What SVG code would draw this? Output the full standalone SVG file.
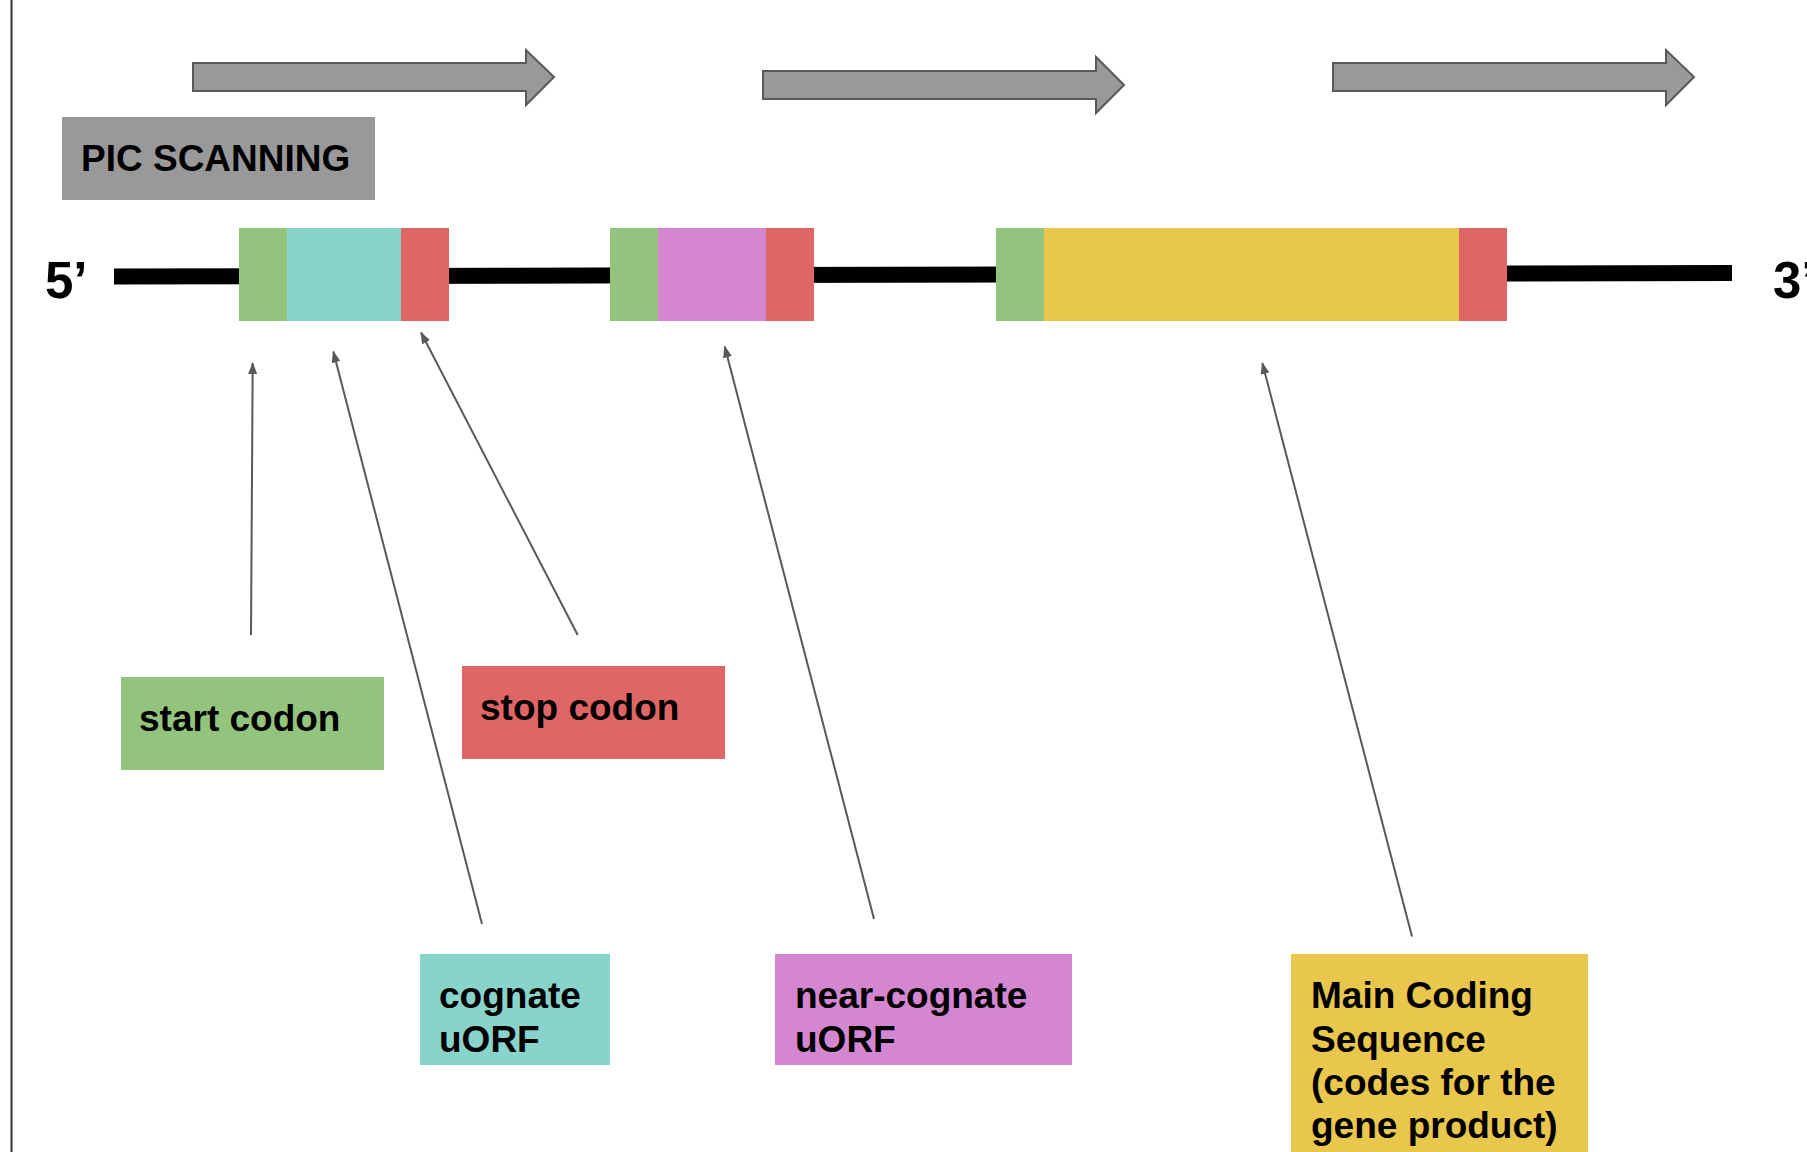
<svg xmlns="http://www.w3.org/2000/svg" width="1807" height="1152" viewBox="0 0 1807 1152">
<style>
.lbl{font-family:"Liberation Sans",Arial,sans-serif;font-weight:bold;font-size:37px;fill:#000}
.end{font-family:"Liberation Sans",Arial,sans-serif;font-weight:bold;font-size:51px;fill:#000}
.scan{fill:#999999;stroke:#595959;stroke-width:2;stroke-linejoin:miter}
.conn{stroke:#595959;stroke-width:2;fill:none}
.g{fill:#93c47d}.r{fill:#e06666}.t{fill:#88d4ca}.p{fill:#d486d1}.y{fill:#e9c64c}
</style>
<defs>
<marker id="ah" viewBox="0 0 12 9" refX="11" refY="4.5" markerUnits="userSpaceOnUse" markerWidth="12" markerHeight="9" orient="auto">
<path d="M0,0 L12,4.5 L0,9 z" fill="#595959"/>
</marker>
</defs>
<rect width="1807" height="1152" fill="#fff"/>
<line x1="11.5" y1="0" x2="11.5" y2="1152" stroke="#333" stroke-width="2"/>
<g id="scan-arrows">
<path class="scan" d="M193,63 H526 V50 L554,77 L526,105 V91 H193 Z"/>
<path class="scan" d="M763,71 H1096 V57 L1124,85 L1096,113 V99 H763 Z"/>
<path class="scan" d="M1333,63 H1666 V50 L1694,77 L1666,105 V91 H1333 Z"/>
</g>
<g id="pic-scanning">
<rect x="62" y="117" width="313" height="83" fill="#999999"/>
<text class="lbl" x="81" y="171">PIC SCANNING</text>
</g>
<g id="mrna">
<line x1="114" y1="276.5" x2="1732" y2="273" stroke="#000" stroke-width="16"/>
<text class="end" x="45" y="298">5’</text>
<text class="end" x="1773" y="298">3’</text>
</g>
<g id="uorf1">
<rect class="g" x="239" y="228" width="48" height="93"/>
<rect class="t" x="287" y="228" width="114" height="93"/>
<rect class="r" x="401" y="228" width="48" height="93"/>
</g>
<g id="uorf2">
<rect class="g" x="610" y="228" width="48" height="93"/>
<rect class="p" x="658" y="228" width="108" height="93"/>
<rect class="r" x="766" y="228" width="48" height="93"/>
</g>
<g id="cds">
<rect class="g" x="996" y="228" width="48" height="93"/>
<rect class="y" x="1044" y="228" width="415" height="93"/>
<rect class="r" x="1459" y="228" width="48" height="93"/>
</g>
<g id="connectors">
<line class="conn" x1="251" y1="635" x2="252.7" y2="363" marker-end="url(#ah)"/>
<line class="conn" x1="482" y1="924" x2="333.3" y2="351.5" marker-end="url(#ah)"/>
<line class="conn" x1="577.7" y1="635" x2="421" y2="332.5" marker-end="url(#ah)"/>
<line class="conn" x1="874" y1="919" x2="724.7" y2="346.5" marker-end="url(#ah)"/>
<line class="conn" x1="1412" y1="936.5" x2="1262.3" y2="363" marker-end="url(#ah)"/>
</g>
<g id="start-codon">
<rect class="g" x="121" y="677" width="263" height="93"/>
<text class="lbl" x="139" y="731">start codon</text>
</g>
<g id="stop-codon">
<rect class="r" x="462" y="666" width="263" height="93"/>
<text class="lbl" x="480" y="720">stop codon</text>
</g>
<g id="cognate-uorf">
<rect class="t" x="420" y="954" width="190" height="111"/>
<text class="lbl" x="439" y="1008">cognate</text>
<text class="lbl" x="439" y="1052">uORF</text>
</g>
<g id="near-cognate-uorf">
<rect class="p" x="775" y="954" width="297" height="111"/>
<text class="lbl" x="795" y="1008">near-cognate</text>
<text class="lbl" x="795" y="1052">uORF</text>
</g>
<g id="main-cds">
<rect class="y" x="1291" y="954" width="297" height="210"/>
<text class="lbl" x="1311" y="1008">Main Coding</text>
<text class="lbl" x="1311" y="1052">Sequence</text>
<text class="lbl" x="1311" y="1095">(codes for the</text>
<text class="lbl" x="1311" y="1138">gene product)</text>
</g>
</svg>
